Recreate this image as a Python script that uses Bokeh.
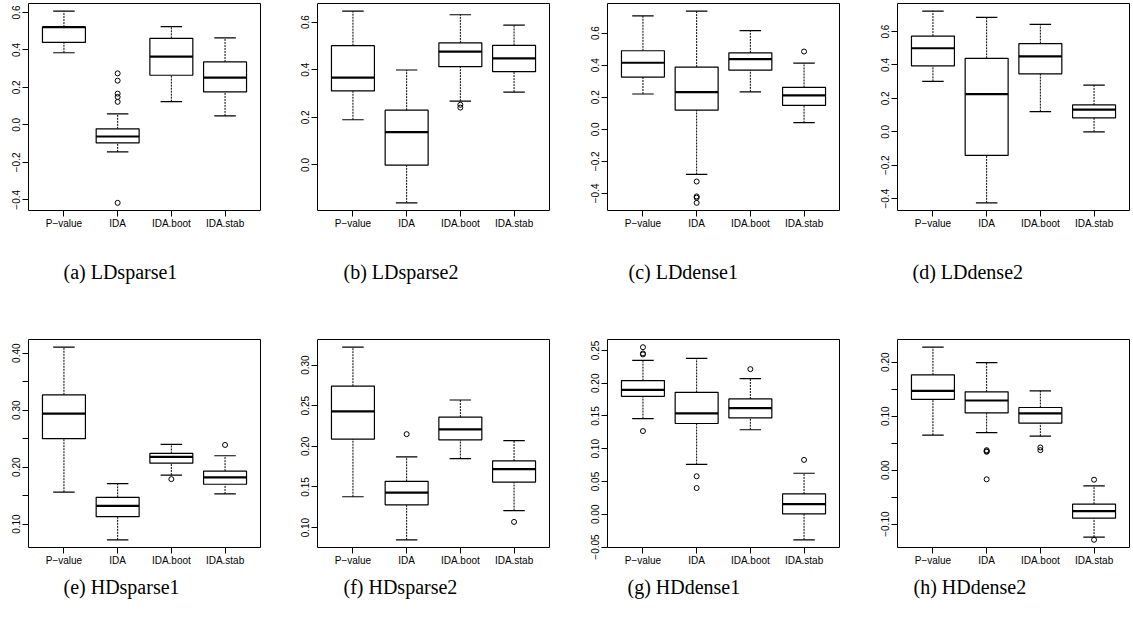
import numpy as np
from bokeh.plotting import figure
from bokeh.layouts import column, row
from bokeh.models import Range1d, FixedTicker, CustomJSTickFormatter, Title, ColumnDataSource
from bokeh.embed import file_html
from bokeh.resources import INLINE

categories = ["P\u2212value", "IDA", "IDA.boot", "IDA.stab"]

# (a) LDsparse1
a_lower = [0.385, -0.144, 0.124, 0.048]
a_q1 = [0.440, -0.096, 0.265, 0.176]
a_med = [0.522, -0.062, 0.364, 0.252]
a_q3 = [0.522, -0.021, 0.462, 0.336]
a_upper = [0.607, 0.059, 0.524, 0.464]
a_out_cat = [2, 2, 2, 2, 2, 2]
a_out_val = [0.275, 0.236, 0.167, 0.149, 0.123, -0.416]
a_ticks = [-0.4, -0.2, 0.0, 0.2, 0.4, 0.6]

# (b) LDsparse2
b_lower = [0.190, -0.159, 0.268, 0.306]
b_q1 = [0.311, -0.001, 0.413, 0.392]
b_med = [0.367, 0.138, 0.476, 0.448]
b_q3 = [0.501, 0.230, 0.513, 0.502]
b_upper = [0.646, 0.399, 0.631, 0.587]
b_out_cat = [3, 3]
b_out_val = [0.253, 0.241]
b_ticks = [0.0, 0.2, 0.4, 0.6]

# (c) LDdense1
c_lower = [0.220, -0.282, 0.234, 0.041]
c_q1 = [0.326, 0.120, 0.369, 0.149]
c_med = [0.415, 0.232, 0.438, 0.212]
c_q3 = [0.490, 0.388, 0.477, 0.261]
c_upper = [0.707, 0.737, 0.616, 0.413]
c_out_cat = [2, 2, 2, 2, 4]
c_out_val = [-0.326, -0.419, -0.427, -0.459, 0.485]
c_ticks = [-0.4, -0.2, 0.0, 0.2, 0.4, 0.6]

# (d) LDdense2
d_lower = [0.302, -0.425, 0.121, 0.000]
d_q1 = [0.395, -0.141, 0.347, 0.083]
d_med = [0.500, 0.226, 0.452, 0.133]
d_q3 = [0.573, 0.440, 0.528, 0.161]
d_upper = [0.722, 0.685, 0.643, 0.280]
d_out_cat = []
d_out_val = []
d_ticks = [-0.4, -0.2, 0.0, 0.2, 0.4, 0.6]

# (e) HDsparse1
e_lower = [0.156, 0.0725, 0.186, 0.153]
e_q1 = [0.250, 0.113, 0.207, 0.170]
e_med = [0.294, 0.132, 0.218, 0.182]
e_q3 = [0.327, 0.147, 0.224, 0.193]
e_upper = [0.4105, 0.171, 0.240, 0.220]
e_out_cat = [3, 4]
e_out_val = [0.179, 0.239]
e_ticks = [0.10, 0.20, 0.30, 0.40]
e_minor = [0.15, 0.25, 0.35]

# (f) HDsparse2
f_lower = [0.138, 0.085, 0.185, 0.121]
f_q1 = [0.209, 0.128, 0.208, 0.156]
f_med = [0.243, 0.143, 0.221, 0.172]
f_q3 = [0.274, 0.157, 0.236, 0.182]
f_upper = [0.322, 0.187, 0.257, 0.207]
f_out_cat = [2, 4]
f_out_val = [0.215, 0.107]
f_ticks = [0.10, 0.15, 0.20, 0.25, 0.30]

# (g) HDdense1
g_lower = [0.146, 0.076, 0.129, -0.039]
g_q1 = [0.180, 0.1385, 0.147, 0.0005]
g_med = [0.190, 0.154, 0.162, 0.0155]
g_q3 = [0.204, 0.186, 0.176, 0.031]
g_upper = [0.235, 0.238, 0.207, 0.0626]
g_out_cat = [1, 1, 1, 1, 2, 2, 3, 4]
g_out_val = [0.255, 0.2455, 0.244, 0.127, 0.058, 0.040, 0.2215, 0.083]
g_ticks = [-0.05, 0.00, 0.05, 0.10, 0.15, 0.20, 0.25]

# (h) HDdense2
h_lower = [0.0647, 0.0696, 0.063, -0.124]
h_q1 = [0.131, 0.106, 0.087, -0.089]
h_med = [0.147, 0.129, 0.105, -0.076]
h_q3 = [0.1766, 0.145, 0.116, -0.063]
h_upper = [0.2277, 0.199, 0.147, -0.029]
h_out_cat = [2, 2, 2, 2, 3, 3, 4, 4]
h_out_val = [0.037, 0.035, 0.034, -0.017, 0.042, 0.037, -0.0177, -0.129]
h_ticks = [-0.10, 0.00, 0.10, 0.20]
h_minor = [-0.05, 0.05, 0.15]

captions = ["(a) LDsparse1", "(b) LDsparse2", "(c) LDdense1", "(d) LDdense2",
            "(e) HDsparse1", "(f) HDsparse2", "(g) HDdense1", "(h) HDdense2"]

SANS = "Liberation Sans"
SERIF = "Liberation Serif"


def panel(lower, q1, med, q3, upper, out_cat, out_val, ticks, minor, decimals,
          caption, cap_offset, cap_standoff, width, left, right, top, fheight, bottom):
    n = len(categories)
    pos = np.arange(1, n + 1, dtype=float)
    allv = np.concatenate([np.asarray(lower, float), np.asarray(upper, float),
                           np.asarray(out_val, float)])
    lo, hi = allv.min(), allv.max()
    pad = 0.04 * (hi - lo)
    xpad = 0.04 * n
    p = figure(width=width, height=top + fheight + bottom,
               x_range=Range1d(0.5 - xpad, n + 0.5 + xpad),
               y_range=Range1d(lo - pad, hi + pad),
               output_backend="svg", toolbar_location=None,
               min_border_left=left, min_border_right=right,
               min_border_top=top, min_border_bottom=bottom)
    p.xgrid.visible = False
    p.ygrid.visible = False
    p.outline_line_color = "black"
    p.outline_line_width = 1
    p.background_fill_color = "white"
    p.border_fill_color = "white"

    src = ColumnDataSource(dict(
        x=pos, lower=lower, q1=q1, med=med, q3=q3, upper=upper,
        xl=pos - 0.4, xr=pos + 0.4, sl=pos - 0.2, sr=pos + 0.2))
    # whiskers
    p.segment(x0="x", x1="x", y0="q3", y1="upper", source=src,
              line_color="black", line_width=1, line_dash="2 1")
    p.segment(x0="x", x1="x", y0="lower", y1="q1", source=src,
              line_color="black", line_width=1, line_dash="2 1")
    # staples
    p.segment(x0="sl", x1="sr", y0="upper", y1="upper", source=src,
              line_color="black", line_width=1.2)
    p.segment(x0="sl", x1="sr", y0="lower", y1="lower", source=src,
              line_color="black", line_width=1.2)
    # boxes
    p.vbar(x="x", width=0.8, bottom="q1", top="q3", source=src,
           fill_color="white", line_color="black", line_width=1.2)
    # medians
    p.segment(x0="xl", x1="xr", y0="med", y1="med", source=src,
              line_color="black", line_width=2.2)
    # outliers
    if len(out_val):
        p.scatter(x=out_cat, y=out_val, marker="circle", size=5,
                  fill_color=None, line_color="black", line_width=1)

    # x axis
    p.xaxis.ticker = FixedTicker(ticks=list(pos))
    p.xaxis.major_label_overrides = {i + 1: c for i, c in enumerate(categories)}
    # y axis
    p.yaxis.ticker = FixedTicker(ticks=ticks, minor_ticks=minor or [])
    p.yaxis.formatter = CustomJSTickFormatter(
        code="const v = Math.abs(tick) < 1e-9 ? 0 : tick; "
             "return v.toFixed(%d).replace('-', '\u2212');" % decimals)
    p.yaxis.major_label_orientation = "vertical"
    for ax in (p.xaxis[0], p.yaxis[0]):
        ax.axis_line_color = None
        ax.major_tick_line_color = "black"
        ax.major_tick_out = 6
        ax.major_tick_in = 0
        ax.minor_tick_line_color = "black" if ax is p.yaxis[0] and minor else None
        ax.minor_tick_out = 6
        ax.minor_tick_in = 0
        ax.major_label_text_font = SANS
        ax.major_label_text_font_size = "10px"
        ax.major_label_text_color = "black"
    p.xaxis.major_label_standoff = 1
    p.yaxis.major_label_standoff = 2

    p.add_layout(Title(text=caption, align="left", offset=cap_offset,
                       standoff=cap_standoff, text_font=SERIF,
                       text_font_size="20px", text_font_style="normal",
                       text_color="black"), "below")
    return p


top_specs = [
    (a_lower, a_q1, a_med, a_q3, a_upper, a_out_cat, a_out_val, a_ticks, None, 1),
    (b_lower, b_q1, b_med, b_q3, b_upper, b_out_cat, b_out_val, b_ticks, None, 1),
    (c_lower, c_q1, c_med, c_q3, c_upper, c_out_cat, c_out_val, c_ticks, None, 1),
    (d_lower, d_q1, d_med, d_q3, d_upper, d_out_cat, d_out_val, d_ticks, None, 1),
]
bot_specs = [
    (e_lower, e_q1, e_med, e_q3, e_upper, e_out_cat, e_out_val, e_ticks, e_minor, 2),
    (f_lower, f_q1, f_med, f_q3, f_upper, f_out_cat, f_out_val, f_ticks, None, 2),
    (g_lower, g_q1, g_med, g_q3, g_upper, g_out_cat, g_out_val, g_ticks, None, 2),
    (h_lower, h_q1, h_med, h_q3, h_upper, h_out_cat, h_out_val, h_ticks, h_minor, 2),
]

widths = [290, 290, 290, 263]
lefts = [28, 27, 27, 27]
rights = [30, 31, 31, 4]
cap_offsets_top = [35, 26, 21, 15]
cap_offsets_bot = [35, 26, 20, 16]

top_row = []
for i, s in enumerate(top_specs):
    top_row.append(panel(*s, captions[i], cap_offsets_top[i], 54,
                         widths[i], lefts[i], rights[i], 3, 207, 125))
bot_row = []
for i, s in enumerate(bot_specs):
    bot_row.append(panel(*s, captions[4 + i], cap_offsets_bot[i], 10,
                         widths[i], lefts[i], rights[i], 4, 208, 82))

layout = column(row(*top_row), row(*bot_row))
open("out.html", "w").write(file_html(layout, INLINE))
